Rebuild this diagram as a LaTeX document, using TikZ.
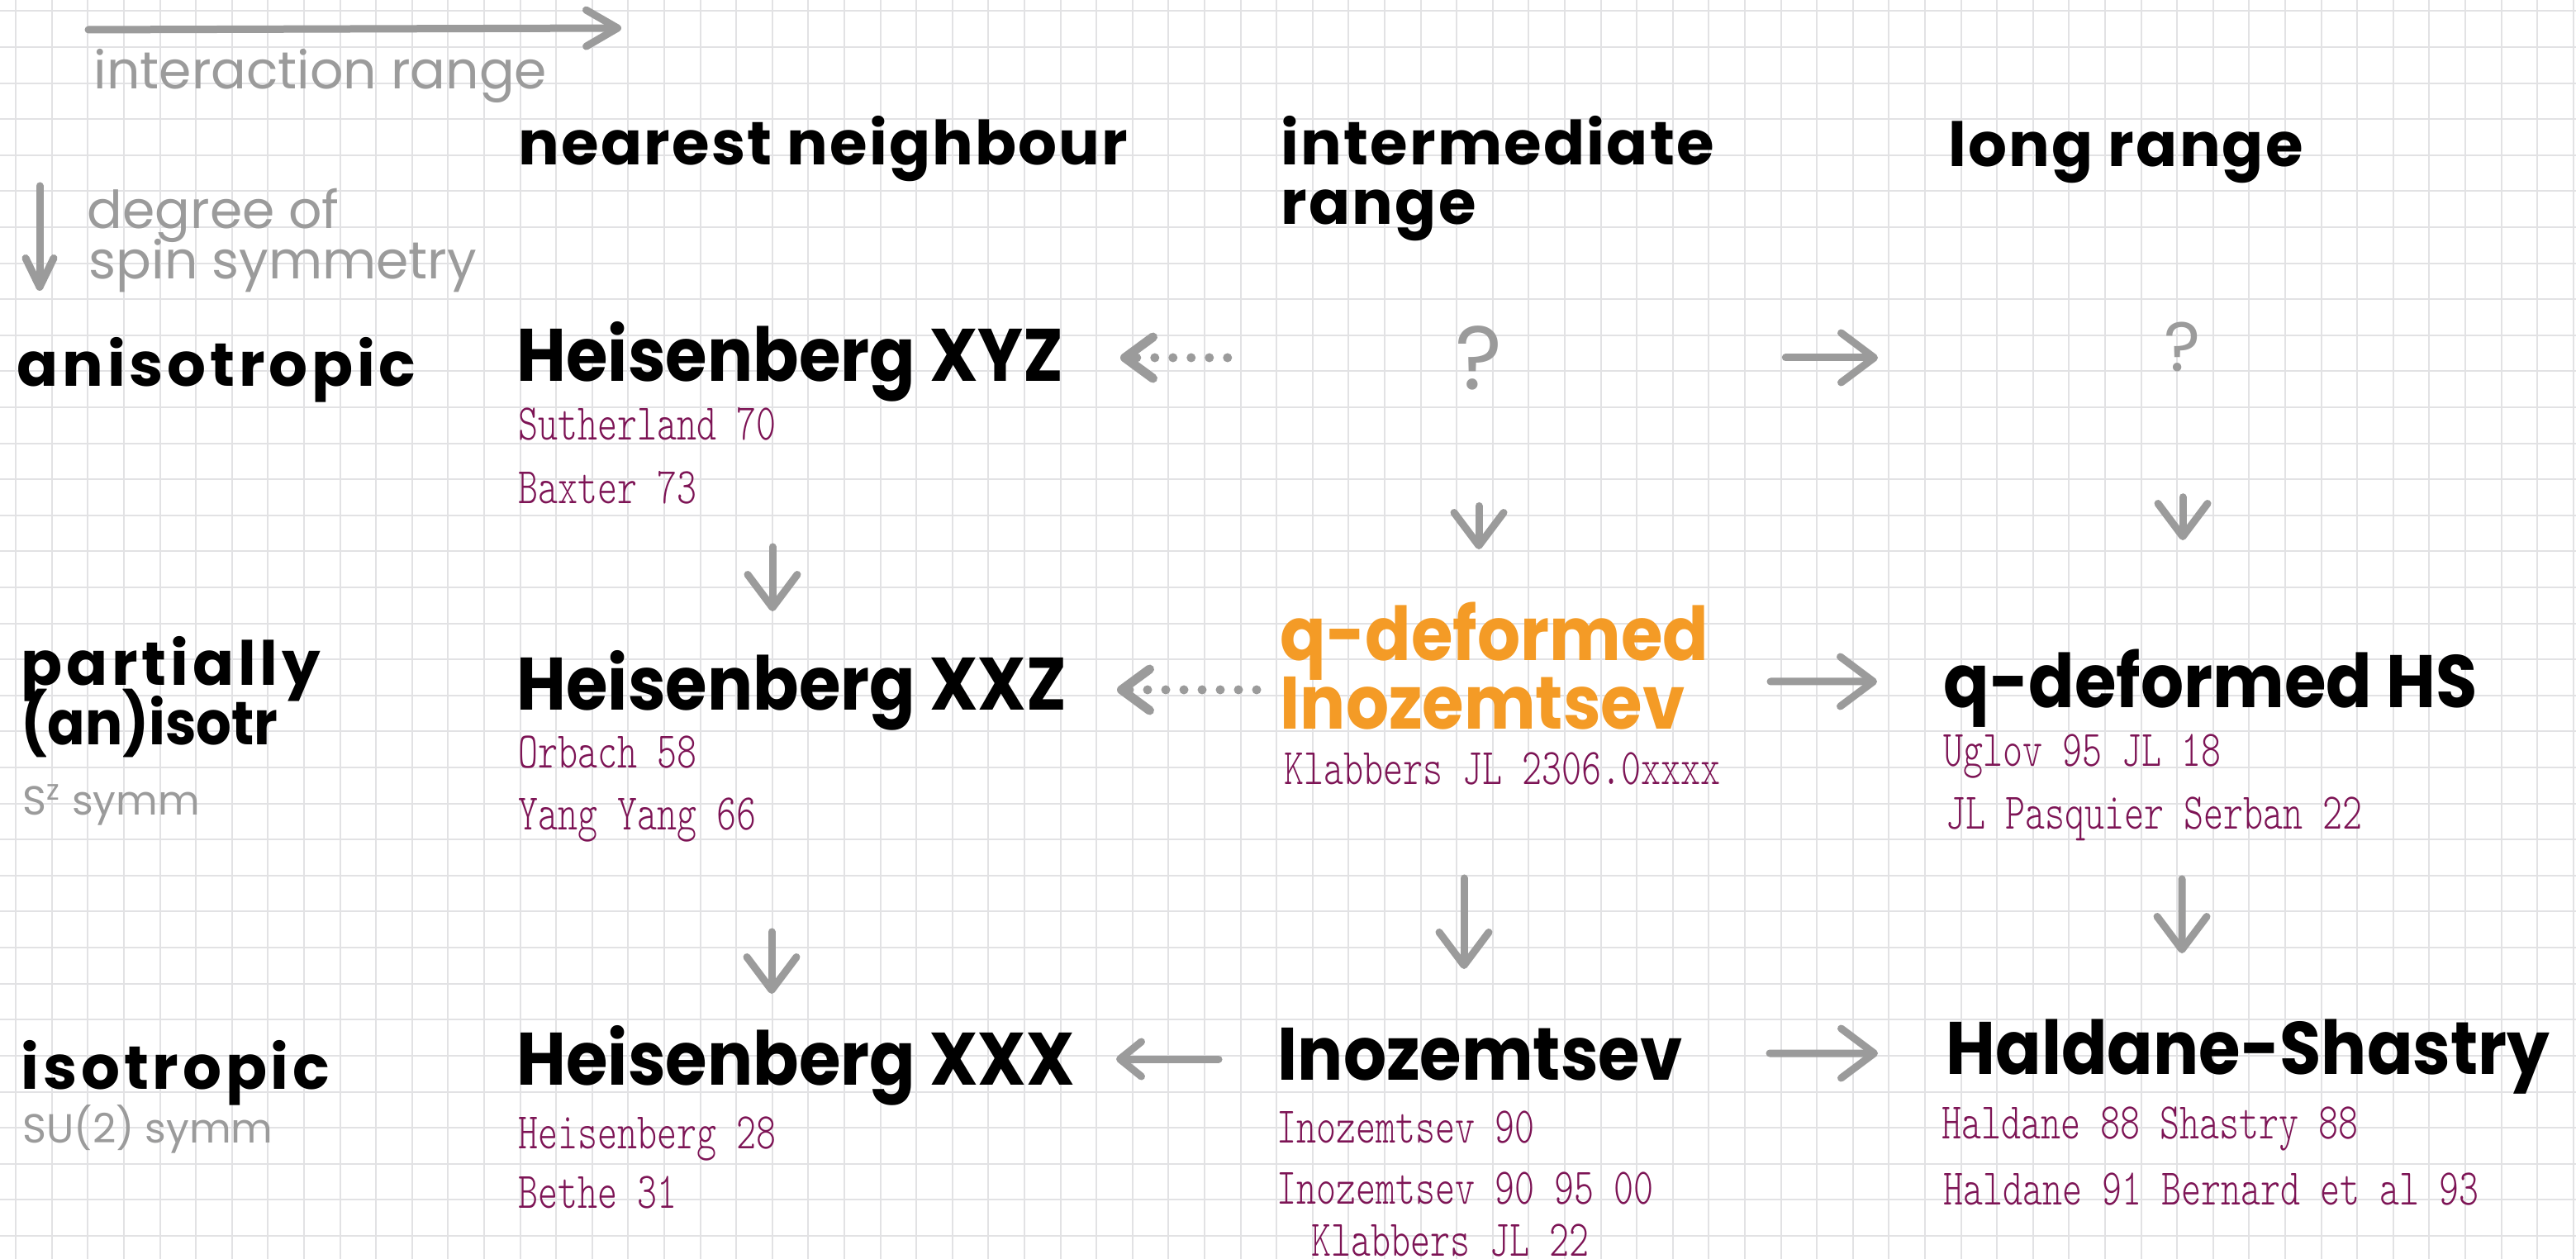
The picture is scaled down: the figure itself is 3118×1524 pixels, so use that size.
\documentclass[tikz,border=0pt]{standalone}
\usepackage{fontspec}
\newfontfamily\handfont{Poppins}
\newfontfamily\titlefont{Poppins}[FakeStretch=0.91]
\newfontfamily\headfont{Poppins}[LetterSpace=3]
\newfontfamily\rowfont{Poppins}[LetterSpace=6.5]
\newfontfamily\citefont{lmmonolt10-regular.otf}[FakeStretch=0.735]
\usetikzlibrary{arrows.meta}
\definecolor{inkgray}{RGB}{155,155,155}
\definecolor{citepurple}{RGB}{125,20,85}
\definecolor{qorange}{RGB}{244,155,38}
\definecolor{gridgray}{RGB}{226,226,228}

\begin{document}
\begin{tikzpicture}[x=0.1mm, y=-0.1mm,
    title/.style={anchor=base west, inner sep=0pt, font=\titlefont\bfseries\fontsize{25.6}{30}\selectfont},
    head/.style={anchor=base west, inner sep=0pt, font=\headfont\bfseries\fontsize{21}{25}\selectfont},
    rowhead/.style={anchor=base west, inner sep=0pt, font=\rowfont\bfseries\fontsize{21}{25}\selectfont},
    note/.style={anchor=base west, inner sep=0pt, text=inkgray, font=\handfont\fontsize{18}{21}\selectfont},
    smallnote/.style={note, font=\handfont\fontsize{14}{17}\selectfont},
    cite/.style={anchor=base west, inner sep=0pt, text=citepurple, font=\citefont\fontsize{17.7}{21}\selectfont},
    arr/.style={draw=inkgray, line width=0.9mm, line cap=round, -{Straight Barb[length=4mm, width=6mm, round]}},
    dotarr/.style={arr, line width=1.1mm, dash pattern=on 0pt off 2.2mm, -{Straight Barb[length=3.4mm, width=5mm, round]}},
    gridline/.style={draw=gridgray, line width=0.2mm}]

    \useasboundingbox (0,0) rectangle (3118,1524);
    \fill[white] (0,0) rectangle (3118,1524);
    \foreach \gx in {0,...,71}
        \draw[gridline] ({19.2+43.6*\gx},0) -- ({19.2+43.6*\gx},1524);
    \foreach \gy in {0,...,34}
        \draw[gridline] (0,{13.5+43.6*\gy}) -- (3118,{13.5+43.6*\gy});

    \coordinate (rangetail) at (107,36);
    \coordinate (rangetip) at (752,34);
    \draw[arr, -{Straight Barb[length=3.8mm, width=4.4mm, round]}] (rangetail) -- (rangetip);
    \node[note] (range) at (113,108) {interaction range};
    \coordinate (symtail) at (48,225);
    \coordinate (symtip) at (48,352);
    \draw[arr, -{Straight Barb[length=3.5mm, width=3.4mm, round]}] (symtail) -- (symtip);
    \node[note] (degree) at (105,277) {degree of};
    \node[note] (spin) at (107,338) {spin symmetry};

    \node[head] (nearest) at (627,200) {nearest neighbour};
    \node[head] (inter) at (1550,200) {intermediate};
    \node[head] (interb) at (1550,272) {range};
    \node[head] (long) at (2358,202) {long range};

    \node[rowhead] (aniso) at (20,468) {anisotropic};
    \node[rowhead] (partial) at (25,830) {partially};
    \node[rowhead, font=\titlefont\bfseries\fontsize{21}{25}\selectfont] (partialb) at (25,902) {(an)isotr};
    \node[smallnote] (szsymm) at (27,987) {S\textsuperscript{z} symm};
    \node[rowhead] (iso) at (25,1318) {isotropic};
    \node[smallnote] (susymm) at (27,1383) {SU(2) symm};

    \node[title] (xyz) at (625,462) {Heisenberg XYZ};
    \node[cite] (suth) at (627,533) {Sutherland 70};
    \node[cite] (baxt) at (627,610) {Baxter 73};
    \node[title] (xxz) at (625,860) {Heisenberg XXZ};
    \node[cite] (orb) at (627,930) {Orbach 58};
    \node[cite] (yang) at (627,1005) {Yang Yang 66};
    \node[title] (xxx) at (625,1313) {Heisenberg XXX};
    \node[cite] (heis) at (627,1390) {Heisenberg 28};
    \node[cite] (bethe) at (627,1462) {Bethe 31};

    \node[text=inkgray, inner sep=0pt, font=\handfont\fontsize{31}{36}\selectfont] (qint) at (1790,433) {?};
    \node[title, text=qorange] (qdef) at (1549,800) {q-deformed};
    \node[title, text=qorange] (qdefb) at (1549,883) {Inozemtsev};
    \node[cite] (klab) at (1554,950) {Klabbers JL 2306.0xxxx};
    \node[title] (ino) at (1546,1307) {Inozemtsev};
    \node[cite] (inoa) at (1545,1383) {Inozemtsev 90};
    \node[cite] (inob) at (1545,1457) {Inozemtsev 90 95 00};
    \node[cite] (inoc) at (1587,1520) {Klabbers JL 22};

    \node[text=inkgray, inner sep=0pt, font=\handfont\fontsize{24}{28}\selectfont] (qlong) at (2642,420) {?};
    \node[title] (qhs) at (2352,857) {q-deformed HS};
    \node[cite] (uglov) at (2352,928) {Uglov 95 JL 18};
    \node[cite] (jlps) at (2355,1004) {JL Pasquier Serban 22};
    \node[title] (hs) at (2355,1300) {Haldane-Shastry};
    \node[cite] (hsa) at (2350,1378) {Haldane 88 Shastry 88};
    \node[cite] (hsb) at (2352,1458) {Haldane 91 Bernard et al 93};

    \draw[dotarr, shorten <=27.5mm, shorten >=73.1mm] (qint) -- ([yshift=2.9mm]xyz.base west);
    \draw[arr, shorten <=34.2mm, shorten >=36.9mm] (qint) -- (qint -| qlong);
    \draw[arr, shorten <=14mm, shorten >=13.5mm] (qint) -- (qint |- qdef.base west);
    \draw[arr, shorten <=15.1mm, shorten >=20.3mm] (qlong) -- (qlong |- qhs.base west);
    \draw[arr, shorten <=20mm, shorten >=12mm] ([xshift=31mm]xyz.base west) -- ([xshift=31mm]xxz.base west);
    \draw[dotarr, shorten <=2.8mm, shorten >=72.7mm] ([yshift=-3.5mm]qdef.base west) -- ([yshift=2.5mm]xxz.base west);
    \draw[arr, shorten <=59.4mm, shorten >=8mm] ([yshift=-2.5mm]qdef.base west) -- ([yshift=3.2mm]qhs.base west);
    \draw[arr, shorten <=26.8mm, shorten >=11mm] ([xshift=30.9mm]xxz.base west) -- ([xshift=30.9mm]xxx.base west);
    \draw[arr, shorten <=18mm, shorten >=13.4mm] ([xshift=22.3mm]qdefb.base west) -- ([xshift=22.6mm]ino.base west);
    \draw[arr, shorten <=20.7mm, shorten >=14.6mm] ([xshift=28.9mm]qhs.base west) -- ([xshift=28.6mm]hs.base west);
    \draw[arr, -{Straight Barb[length=2.6mm, width=4.2mm, round]}, shorten <=7.1mm, shorten >=72.6mm] ([yshift=2.5mm]ino.base west) -- ([yshift=3.1mm]xxx.base west);
    \draw[arr, shorten <=59.6mm, shorten >=8.2mm] ([yshift=3.2mm]ino.base west) -- ([yshift=2.5mm]hs.base west);
\end{tikzpicture}
\end{document}
